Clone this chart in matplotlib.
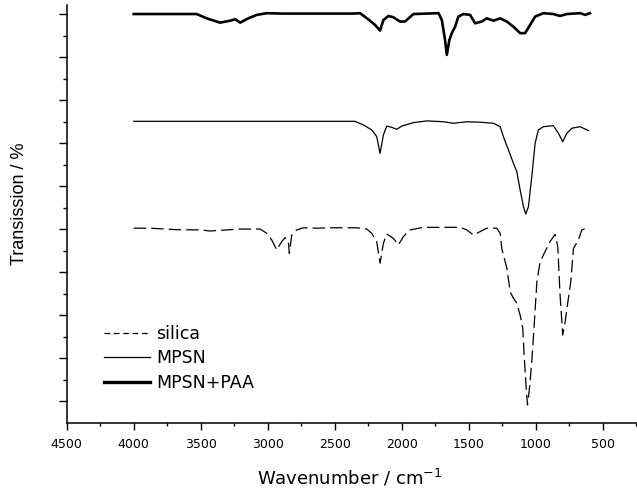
import numpy as np
import matplotlib
matplotlib.use("Agg")
import matplotlib.pyplot as plt
from matplotlib.lines import Line2D

## spectra (wavenumber in cm-1, transmission in arbitrary offset units)

wn_paa = [4000, 3530, 3456, 3356, 3280, 3243, 3206, 3145, 3082, 3007, 2896, 2361, 2311,
          2237, 2199, 2162, 2137, 2100, 2063, 2013, 1976, 1913, 1726, 1701, 1677, 1664,
          1645, 1627, 1602, 1578, 1540, 1490, 1453, 1403, 1366, 1316, 1266, 1216, 1167,
          1117, 1080, 1043, 1005, 943, 869, 819, 769, 669, 632, 597]
t_paa = [19.02, 19.02, 18.82, 18.62, 18.71, 18.78, 18.62, 18.82, 18.98, 19.06, 19.04, 19.04, 19.06,
         18.71, 18.51, 18.25, 18.74, 18.93, 18.87, 18.67, 18.67, 19.02, 19.06, 18.74, 17.81, 17.12,
         17.81, 18.13, 18.43, 18.90, 19.02, 18.98, 18.59, 18.67, 18.82, 18.71, 18.82, 18.67, 18.43,
         18.13, 18.13, 18.51, 18.90, 19.06, 19.02, 18.93, 19.02, 19.06, 18.98, 19.06]

wn_mpsn = [4000, 2349, 2286, 2224, 2187, 2162, 2137, 2112, 2075, 2037, 2000, 1913, 1813,
           1689, 1615, 1515, 1416, 1316, 1266, 1242, 1204, 1167, 1142, 1117, 1092, 1075,
           1055, 1030, 1005, 981, 943, 869, 831, 799, 769, 731, 669, 607]
t_mpsn = [14.03, 14.03, 13.86, 13.63, 13.32, 12.54, 13.40, 13.81, 13.75, 13.66, 13.81, 13.97, 14.05,
          14.01, 13.94, 14.01, 13.99, 13.94, 13.78, 13.32, 12.70, 12.08, 11.69, 10.84, 10.06, 9.72,
          10.06, 11.46, 13.01, 13.63, 13.78, 13.83, 13.47, 13.08, 13.47, 13.71, 13.78, 13.60]

wn_silica = [4000, 3878, 3679, 3505, 3431, 3306, 3207, 3057, 3007, 2970, 2933, 2896, 2871,
             2846, 2839, 2821, 2784, 2734, 2634, 2535, 2336, 2261, 2224, 2187, 2162, 2137,
             2112, 2063, 2025, 1988, 1938, 1839, 1565, 1515, 1465, 1416, 1366, 1291, 1266,
             1254, 1216, 1191, 1167, 1142, 1117, 1097, 1087, 1072, 1062, 1047, 1030, 1012,
             992, 968, 931, 894, 856, 836, 819, 799, 781, 757, 739, 719, 682, 657, 607]
t_silica = [9.06, 9.06, 8.99, 8.98, 8.93, 8.98, 9.02, 9.02, 8.82, 8.51, 8.05, 8.43, 8.62,
            8.43, 7.89, 8.74, 8.98, 9.08, 9.06, 9.08, 9.08, 9.02, 8.82, 8.43, 7.43, 8.36,
            8.79, 8.59, 8.28, 8.67, 8.98, 9.10, 9.10, 8.98, 8.74, 8.90, 9.06, 9.06, 8.82,
            8.12, 7.20, 6.10, 5.80, 5.57, 5.02, 4.40, 3.16, 1.63, 0.84, 1.63, 2.85, 4.56,
            6.57, 7.50, 7.97, 8.43, 8.78, 8.20, 5.95, 4.09, 4.71, 5.80, 6.57, 8.12, 8.51, 8.98, 9.08]

labels = ["silica", "MPSN", "MPSN+PAA"]
xticks = [4500, 4000, 3500, 3000, 2500, 2000, 1500, 1000, 500]

plt.rcParams['font.family'] = ['DejaVu Sans']
plt.rcParams['axes.linewidth'] = 1.1

fig = plt.figure(figsize=(6.37, 4.90), dpi=100)
ax = fig.add_axes([66.7/637, 67/490, 1 - 66.7/637, (423 - 5)/490])

ax.plot(wn_silica, t_silica, color='black', lw=0.9, dashes=(10, 4))
ax.plot(wn_mpsn, t_mpsn, color='black', lw=0.9)
ax.plot(wn_paa, t_paa, color='black', lw=1.9)

ax.set_xlim(4500, 245)
ax.set_ylim(0, 19.44)
ax.set_xticks(xticks)
ax.set_xticks(np.arange(4250, 249, -500), minor=True)
ax.set_yticks(np.arange(1, 20, 2))
ax.set_yticks(np.arange(2, 19, 2), minor=True)
ax.set_yticklabels([])
ax.tick_params(axis='x', which='major', length=5, width=1, labelsize=9, pad=6)
ax.tick_params(axis='x', which='minor', length=2.5, width=1)
ax.tick_params(axis='y', which='major', length=6, width=1)
ax.tick_params(axis='y', which='minor', length=3, width=1)
for s in ['top', 'right']:
    ax.spines[s].set_visible(False)

ax.set_xlabel("Wavenumber / cm$^{-1}$", fontsize=13)
ax.xaxis.set_label_coords(0.497, -0.107)
ax.set_ylabel("Transission / %", fontsize=13, family=['Liberation Sans', 'DejaVu Sans'])
ax.yaxis.set_label_coords((28 - 66.7) / 570.3, (423 - 204) / 418)

# legend handles (shorter dashes than the plotted line)
handles = [Line2D([], [], color='black', lw=0.9, dashes=(4.5, 3)),
           Line2D([], [], color='black', lw=0.9),
           Line2D([], [], color='black', lw=2.4)]
ax.legend(handles, labels, loc='upper left', bbox_to_anchor=((104 - 66.7) / 570.3, (423 - 325) / 418),
          frameon=False, fontsize=12.5, handlelength=2.64, handletextpad=0.35,
          labelspacing=0.37, borderpad=0, borderaxespad=0)

fig.savefig("out.png", dpi=100)
